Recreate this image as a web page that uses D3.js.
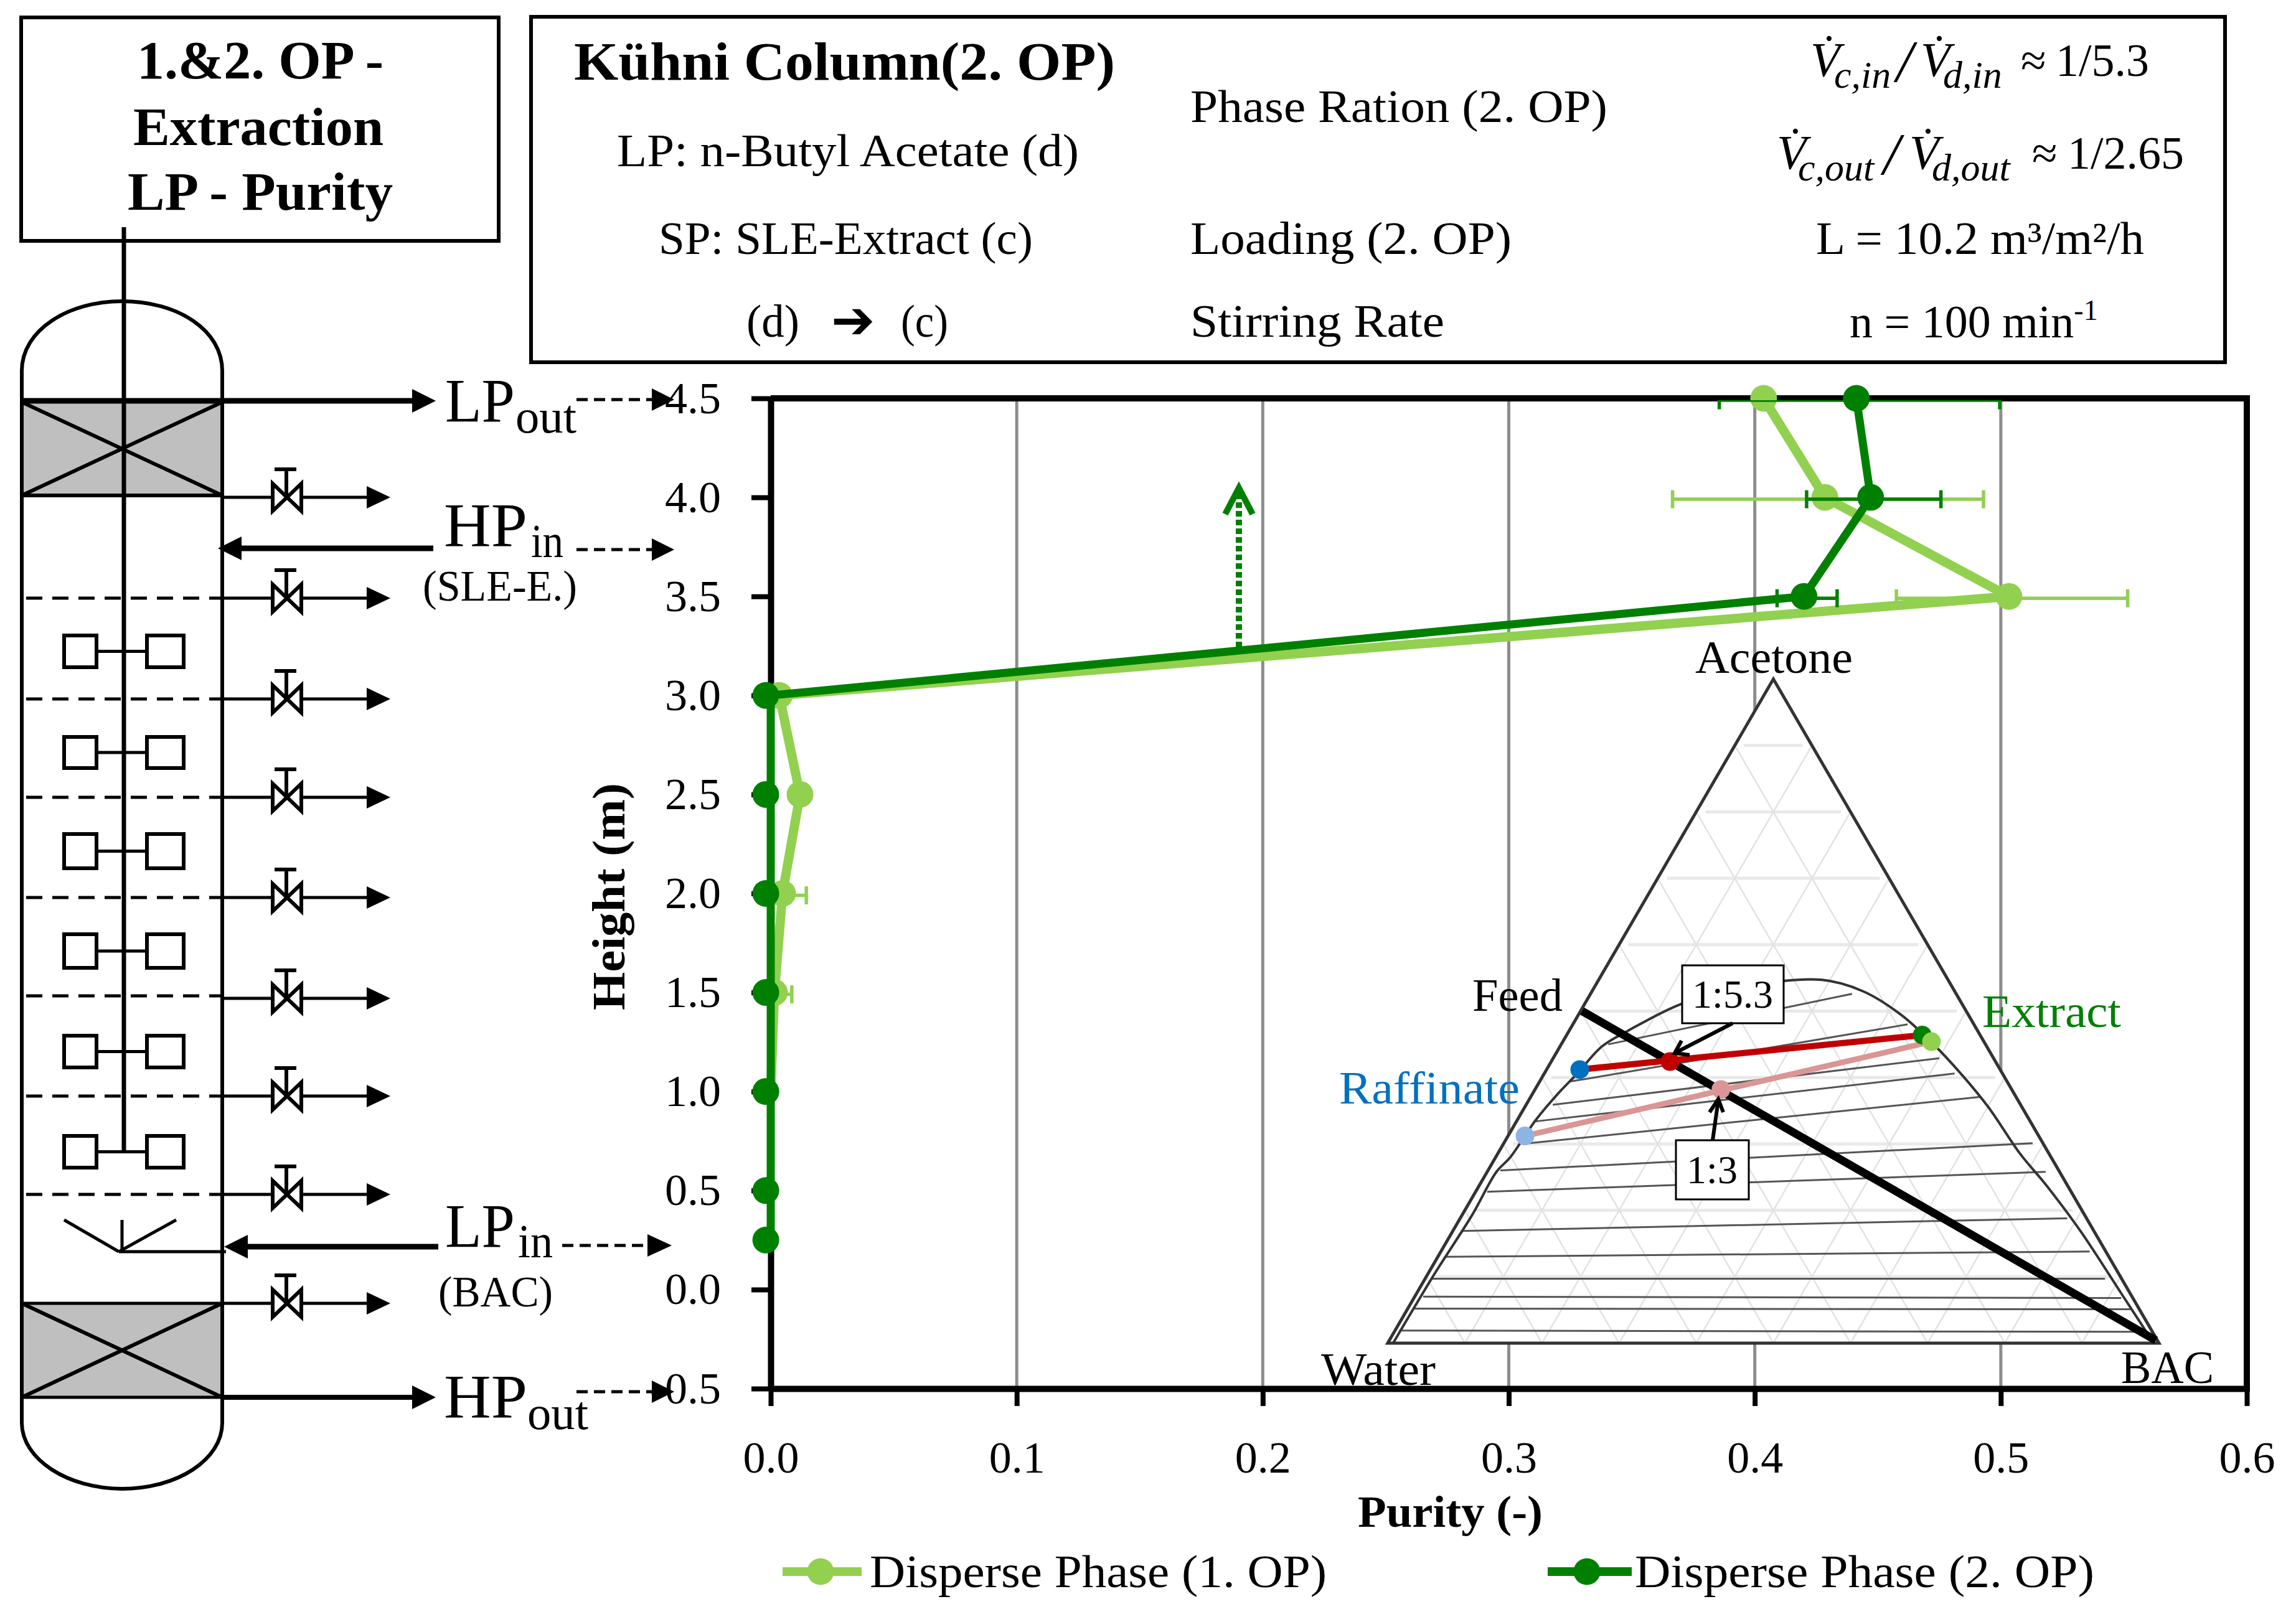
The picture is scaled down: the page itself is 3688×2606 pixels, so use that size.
<!DOCTYPE html>
<html><head><meta charset="utf-8">
<style>html,body{margin:0;background:#fff}svg{display:block}text{font-family:"Liberation Serif",serif;fill:#000}</style>
<script src="https://cdn.jsdelivr.net/npm/d3@7/dist/d3.min.js"></script>
</head><body><svg id="c" width="3688" height="2606"></svg>
<script>
// ---------- chart values ----------
const xTicks = [0,0.1,0.2,0.3,0.4,0.5,0.6];
const yTicks = [-0.5,0,0.5,1,1.5,2,2.5,3,3.5,4,4.5];
const heights1 = [4.5,4,3.5,3,2.5,2,1.5,1];
const purity1  = [0.4036,0.4285,0.5033,0.0035,0.0119,0.0048,0.0015,-0.002];
const error1   = [0,0.0632,0.047,0,0,0.0084,0.0058,0];
const heights2 = [4.5,4,3.5,3,2.5,2,1.5,1,0.5,0.25];
const purity2  = [0.4413,0.4471,0.42,-0.002,-0.002,-0.002,-0.002,-0.002,-0.002,-0.002];
const error2   = [0.057,0.0273,0.0122,0,0,0,0,0,0,0];
const seriesNames = ["Disperse Phase (1. OP)","Disperse Phase (2. OP)"];
// ternary inset: position along the base (u) and height (v), both 0..1
const binodalU = [0.007,0.06,0.109,0.141,0.159,0.192,0.221,0.245,0.278,0.311,0.381,0.469,0.563,0.616,0.665,0.706,0.746,0.779,0.82,0.853,0.898,0.951,0.992];
const binodalV = [0,0.103,0.192,0.258,0.28,0.336,0.376,0.405,0.447,0.47,0.511,0.538,0.547,0.53,0.495,0.452,0.402,0.355,0.285,0.239,0.169,0.075,0.002];
const tieU1 = [0.286,0.237,0.214,0.192,0.183,0.146,0.129,0.096,0.074,0.058,0.046,0.035,0.015];
const tieV1 = [0.45,0.394,0.359,0.334,0.301,0.26,0.228,0.169,0.13,0.097,0.07,0.052,0.019];
const tieU2 = [0.602,0.674,0.715,0.735,0.769,0.836,0.853,0.881,0.91,0.93,0.951,0.963,0.98];
const tieV2 = [0.526,0.48,0.429,0.406,0.371,0.301,0.258,0.188,0.138,0.097,0.068,0.051,0.017];
const feedU = [0.252,0.996];       const feedV = [0.5,0.004];
const mixA_U = [0.249,0.366,0.693]; const mixA_V = [0.412,0.424,0.464];
const mixB_U = [0.178,0.432,0.705]; const mixB_V = [0.312,0.382,0.454];

const LIGHT="#92D050", DARK="#008000", RED="#C00000", PINK="#D99694", BLUE="#0070C0", LBLUE="#8EB4E3";
const svg=d3.select("#c");

function T(g,s,x,y,o={}){
  const n=g.append("text").attr("x",x).attr("y",y).text(s)
    .attr("font-size",o.size||74).attr("text-anchor",o.anchor||"start");
  if(o.weight)n.attr("font-weight",o.weight);
  if(o.fill)n.style("fill",o.fill);
  if(o.italic)n.attr("font-style","italic");
  if(o.family)n.style("font-family",o.family);
  if(o.len)n.attr("textLength",o.len).attr("lengthAdjust","spacingAndGlyphs");
  if(o.rotate)n.attr("transform",`rotate(${o.rotate} ${x} ${y})`);
  return n;
}
function L(g,x1,y1,x2,y2,w,col="#000",dash){
  const l=g.append("line").attr("x1",x1).attr("y1",y1).attr("x2",x2).attr("y2",y2)
    .attr("stroke",col).attr("stroke-width",w);
  if(dash)l.attr("stroke-dasharray",dash);
  return l;
}
function Box(g,x1,y1,x2,y2,w,fill="#fff"){
  return g.append("rect").attr("x",x1).attr("y",y1).attr("width",x2-x1).attr("height",y2-y1)
    .attr("fill",fill).attr("stroke","#000").attr("stroke-width",w);
}
function Head(g,tip,y,base,h){
  g.append("path").attr("d",`M${tip},${y}L${base},${y-h}L${base},${y+h}Z`).attr("fill","#000");
}

// ---------- scales ----------
const x=d3.scaleLinear().domain([0,0.6]).range([1238,3609]);
const y=d3.scaleLinear().domain([-0.5,4.5]).range([2231,640]);
const xLine=x.copy().clamp(true);
const ternU=d3.scaleLinear().domain([0,1]).range([2229,3468]);
const ternV=d3.scaleLinear().domain([0,1]).range([2158,1091]);

// ---------- plot ----------
const plot=svg.append("g");
plot.selectAll("line.grid").data(xTicks.slice(1,-1)).join("line").attr("class","grid")
  .attr("x1",d=>x(d)).attr("x2",d=>x(d)).attr("y1",y(4.5)).attr("y2",y(-0.5))
  .attr("stroke","#8c8c8c").attr("stroke-width",5);

const axB=plot.append("g").attr("transform",`translate(0,${y(-0.5)})`)
  .call(d3.axisBottom(x).tickValues(xTicks).tickSize(28).tickSizeOuter(0).tickPadding(56).tickFormat(d3.format(".1f")));
const axL=plot.append("g").attr("transform",`translate(${x(0)},0)`)
  .call(d3.axisLeft(y).tickValues(yTicks).tickSize(31).tickSizeOuter(0).tickPadding(49)
    .tickFormat(d=>d3.format(".1f")(d).replace("\u2212","-")));
[axB,axL].forEach(a=>{
  a.selectAll(".domain").attr("stroke","#000").attr("stroke-width",10);
  a.selectAll(".tick line").attr("stroke","#000").attr("stroke-width",8);
  a.selectAll("text").attr("font-size",72).style("font-family",'"Liberation Serif",serif').style("fill","#000");
});
L(plot,x(0),y(4.5),x(0.6),y(4.5),10);
L(plot,x(0.6),y(4.5)-5,x(0.6),y(-0.5)+5,10);

T(svg,"Height (m)",1003,1623,{size:74,weight:"bold",rotate:-90,len:365});
T(svg,"Purity (-)",2181,2453,{size:72,weight:"bold",len:297});

// green dotted arrow
const ga=svg.append("g");
L(ga,1990,1040,1990,790,10,DARK,"9 5");
ga.append("path").attr("d","M1968,826L1990,784L2012,826").attr("fill","none").attr("stroke",DARK).attr("stroke-width",10);

// ---------- ternary inset ----------
const tern=svg.append("g");
const P=(u,v)=>[ternU(u),ternV(v)];
tern.append("path").attr("d",d3.line()([P(0,0),P(0.5,1),P(1,0)])+"Z").attr("fill","#fff");
const gridSteps=d3.range(1,10).map(i=>i/10);
gridSteps.forEach(f=>{
  L(tern,...P(f/2+0.012,f),...P(1-f/2-0.012,f),5,"#e9e9e9");
});
gridSteps.forEach(f=>{
  L(tern,...P(f,0),...P(f/2,f),2.5,"#e2e2e2");
  L(tern,...P(f,0),...P((1+f)/2,1-f),2.5,"#e2e2e2");
});
tieU1.forEach((u,i)=>L(tern,...P(u,tieV1[i]),...P(tieU2[i],tieV2[i]),3,"#555"));
tern.append("path").attr("d",d3.line().curve(d3.curveCatmullRom)(binodalU.map((u,i)=>P(u,binodalV[i]))))
  .attr("fill","none").attr("stroke","#333").attr("stroke-width",4);
tern.append("path").attr("d",d3.line()([P(0,0),P(0.5,1),P(1,0)])+"Z").attr("fill","none").attr("stroke","#333").attr("stroke-width",5);
L(tern,...P(feedU[0],feedV[0]),...P(feedU[1],feedV[1]),13);
L(tern,...P(mixA_U[0],mixA_V[0]),...P(mixA_U[2],mixA_V[2]),10,RED);
L(tern,...P(mixB_U[0],mixB_V[0]),...P(mixB_U[2],mixB_V[2]),9,PINK);
[[mixA_U[2],mixA_V[2],DARK],[mixB_U[2],mixB_V[2],LIGHT],[mixA_U[0],mixA_V[0],BLUE],[mixB_U[0],mixB_V[0],LBLUE],[mixA_U[1],mixA_V[1],RED],[mixB_U[1],mixB_V[1],PINK]]
 .forEach(d=>{const p=P(d[0],d[1]);tern.append("circle").attr("cx",p[0]).attr("cy",p[1]).attr("r",15).attr("fill",d[2]);});
T(tern,"Acetone",2723,1081,{len:253});
T(tern,"Water",2122,2225,{len:184});
T(tern,"BAC",3407,2222,{len:149});
T(tern,"Feed",2365,1624,{len:145});
T(tern,"Extract",3184,1650,{len:223,fill:DARK});
T(tern,"Raffinate",2151,1773,{len:290,fill:BLUE});
Box(tern,2702,1551,2865,1644,3);
T(tern,"1:5.3",2783,1619,{anchor:"middle",size:64});
Box(tern,2692,1832,2809,1927,3);
T(tern,"1:3",2750,1901,{anchor:"middle",size:64});
L(tern,2783,1644,2690,1692,6);
tern.append("path").attr("d","M2701,1672L2690,1692L2714,1695").attr("fill","none").attr("stroke","#000").attr("stroke-width",6);
L(tern,2751,1832,2760,1768,6);
tern.append("path").attr("d","M2746,1787L2760,1766L2768,1787").attr("fill","none").attr("stroke","#000").attr("stroke-width",6);

// ---------- series ----------
svg.append("clipPath").attr("id","errClip").append("rect").attr("x",1000).attr("y",640).attr("width",2700).attr("height",1700);
function drawSeries(hs,vals,errs,col,w){
  const g=svg.append("g");
  const eg=g.append("g").attr("clip-path","url(#errClip)").attr("stroke",col).attr("stroke-width",5.5).attr("transform","translate(5,3)");
  vals.forEach((v,i)=>{
    if(!errs[i])return;
    const yy=y(hs[i]);
    eg.append("line").attr("x1",x(v-errs[i])).attr("x2",x(v+errs[i])).attr("y1",yy).attr("y2",yy);
    [v-errs[i],v+errs[i]].forEach(e=>eg.append("line").attr("x1",x(e)).attr("x2",x(e)).attr("y1",yy-14.5).attr("y2",yy+14.5));
  });
  g.append("path").attr("d",d3.line().x((d,i)=>xLine(vals[i])).y((d,i)=>y(hs[i]))(vals))
    .attr("fill","none").attr("stroke",col).attr("stroke-width",w);
  g.selectAll("circle").data(vals).join("circle")
    .attr("cx",d=>x(d)).attr("cy",(d,i)=>y(hs[i])).attr("r",21.5).attr("fill",col);
}
drawSeries(heights1,purity1,error1,LIGHT,15);
drawSeries(heights2,purity2,error2,DARK,13);

// legend
const lg=svg.append("g");
[[1257,1384,1318,1397,734,LIGHT],[2486,2621,2549,2626,738,DARK]].forEach((d,i)=>{
  L(lg,d[0],2525,d[1],2525,14,d[5]);
  lg.append("circle").attr("cx",d[2]).attr("cy",2525).attr("r",21.5).attr("fill",d[5]);
  T(lg,seriesNames[i],d[3],2550,{len:d[4]});
});

// ---------- info boxes ----------
const hd=svg.append("g");
Box(hd,34,28,801,387,6);
T(hd,"1.&2. OP -",220,126,{size:87,weight:"bold",len:396});
T(hd,"Extraction",214,233,{size:87,weight:"bold",len:402});
T(hd,"LP - Purity",205,337,{size:87,weight:"bold",len:426});
Box(hd,853,27,3574,582,6);
T(hd,"Kühni Column(2. OP)",922,128,{size:87,weight:"bold",len:869});
T(hd,"LP: n-Butyl Acetate (d)",991,267,{len:742});
T(hd,"SP: SLE-Extract (c)",1058,408,{len:601});
T(hd,"(d)",1199,541,{len:85});
T(hd,"\u2794",1335,543,{family:"DejaVu Sans",size:84,weight:"bold"});
T(hd,"(c)",1447,541,{len:76});
T(hd,"Phase Ration (2. OP)",1912,196,{len:670});
T(hd,"Loading (2. OP)",1912,408,{len:516});
T(hd,"Stirring Rate",1912,541,{len:408});
const V="V\u0307";
// one text per formula, each piece placed along its baseline: [text, x, kind]
function formula(base,parts){
  const t=hd.append("text").attr("y",base).attr("font-size",74);
  parts.forEach(p=>{
    const s=t.append("tspan").attr("x",p[1]).attr("y",base+(p[2]==="s"?19:p[2]==="/"?9:0)).text(p[0]);
    if(p[2]==="s")s.attr("font-size",62).attr("font-style","italic");
    if(p[2]==="v")s.attr("font-style","italic").attr("font-size",78);
    if(p[2]==="/")s.attr("font-style","italic").attr("font-size",96);
  });
}
formula(122,[[V,2908,"v"],["c,in",2946,"s"],["/",3046,"/"],[V,3085,"v"],["d,in",3121,"s"],["\u2248",3246,"n"],["1/5.3",3302,"n"]]);
formula(271,[[V,2854,"v"],["c,out",2888,"s"],["/",3025,"/"],[V,3067,"v"],["d,out",3103,"s"],["\u2248",3264,"n"],["1/2.65",3321,"n"]]);
T(hd,"L = 10.2 m\u00B3/m\u00B2/h",2917,408,{len:527});
const nt=T(hd,"n = 100 min",2971,542);
nt.append("tspan").attr("dy",-28).attr("font-size",46).text("-1");

// ---------- column schematic ----------
const col=svg.append("g");
Box(col,35,646,357,796,0,"#bfbfbf").attr("stroke","none");
Box(col,35,2094,357,2245,0,"#bfbfbf").attr("stroke","none");
col.append("path").attr("fill","none").attr("stroke","#000").attr("stroke-width",6)
  .attr("d","M35,596C35,530 110,484 196,484C285,484 357,530 357,596L357,2286C357,2345 285,2392 196,2392C110,2392 35,2345 35,2286Z");
L(col,199,365,199,1849,7);
L(col,35,644,357,644,9); L(col,35,796,357,796,6);
L(col,35,646,357,796,6); L(col,35,796,357,646,6);
L(col,35,2094,357,2094,5); L(col,35,2245,357,2245,5);
L(col,35,2094,357,2245,6); L(col,35,2245,357,2094,6);
[961,1123,1281,1442,1600,1761,1919].forEach(yy=>L(col,42,yy,357,yy,5,"#000","26 16"));
[[1021,1072],[1184,1234],[1340,1395],[1501,1555],[1664,1715],[1825,1876]].forEach(b=>{
  const m=(b[0]+b[1])/2;
  L(col,155,m,236,m,5);
  Box(col,103,b[0],155,b[1],6); Box(col,236,b[0],295,b[1],6);
});
L(col,103,1960,191,2011,5); L(col,191,2011,283,1960,5); L(col,196,1960,196,2011,5); L(col,191,2011,363,2011,5);
[799,961,1123,1281,1442,1604,1761,1919,2094].forEach(yy=>{
  L(col,357,yy,600,yy,5);
  Head(col,627,yy,589,18);
  col.append("path").attr("d",`M438,${yy-22}L438,${yy+22}L484,${yy-22}L484,${yy+22}Z`).attr("fill","#fff").attr("stroke","#000").attr("stroke-width",6);
  L(col,460,yy,460,yy-45,6); L(col,441,yy-45,476,yy-45,6);
});
// main streams
L(col,357,644,670,644,9); Head(col,700,644,662,19);
L(col,357,2245,670,2245,8); Head(col,700,2245,662,19);
L(col,696,881,380,881,9); Head(col,350,881,388,19);
L(col,704,2003,390,2003,9); Head(col,360,2003,398,19);
// dashed links
[[926,1083,642,1047],[926,1083,883,1047],[903,1079,2001,1040],[926,1083,2236,1047]].forEach(d=>{
  L(col,d[0],d[2],d[3]+2,d[2],5,"#000","18 10");
  Head(col,d[1],d[2],d[3],18);
});
const lbl=(a,ax,ay,s,sx,sy,alen,slen)=>{T(col,a,ax,ay,{size:100,len:alen});T(col,s,sx,sy,{size:76,len:slen});};
lbl("LP",715,677,"out",828,695,112,98);
lbl("HP",713,877,"in",853,895,134,52);
lbl("LP",715,2003,"in",832,2020,112,56);
lbl("HP",713,2277,"out",847,2296,134,98);
T(col,"(SLE-E.)",679,965,{size:70,len:248});
T(col,"(BAC)",704,2099,{size:70,len:184});
</script></body></html>
